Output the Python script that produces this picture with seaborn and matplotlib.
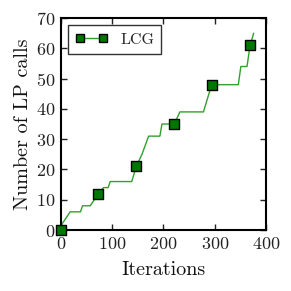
import matplotlib
matplotlib.use("Agg")
import matplotlib.pyplot as plt
from matplotlib.lines import Line2D
import seaborn as sns
import pandas as pd

# breakpoints of the cumulative LP-call curve
iters = [0, 2, 18, 38, 42, 57, 73, 83, 92, 96, 138, 147, 158, 171, 193, 197, 219, 221, 232, 278, 294, 346, 351, 363, 369, 376]
calls = [1, 2, 6, 6, 8, 8, 12, 14, 14, 16, 16, 21, 25, 31, 31, 35, 35, 35, 39, 39, 48, 48, 54, 54, 61, 65]

marker_iters = [0, 73, 147, 221, 294, 369]
marker_calls = [0, 12, 21, 35, 48, 61]

line_df = pd.DataFrame({"Iterations": iters, "calls": calls})
mark_df = pd.DataFrame({"Iterations": marker_iters, "calls": marker_calls})

sns.set_theme(style="ticks")
plt.rcParams["font.family"] = ["cmr10", "DejaVu Serif"]
plt.rcParams["axes.formatter.use_mathtext"] = True
plt.rcParams["mathtext.fontset"] = "cm"

fig = plt.figure(figsize=(2.91, 2.91), dpi=100)
ax = fig.add_axes([0.2096, 0.2096, 0.7044, 0.7284])

sns.lineplot(data=line_df, x="Iterations", y="calls", ax=ax, color="#30a030",
             linewidth=1.0, estimator=None, sort=False)
sns.scatterplot(data=mark_df, x="Iterations", y="calls", ax=ax, marker="s",
                color="#007800", edgecolor="black", linewidth=1.0, s=45, zorder=5,
                clip_on=False)

ax.set_xlim(0, 400)
ax.set_ylim(0, 70)
ax.set_xticks([0, 100, 200, 300, 400])
ax.set_yticks(range(0, 71, 10))
ax.tick_params(direction="in", top=True, right=True, length=4, width=1,
               labelsize=13, colors="#222222", pad=4)
for s in ax.spines.values():
    s.set_linewidth(1.5)
    s.set_color("black")
ax.set_xlabel("Iterations", fontsize=14.5, labelpad=7, color="#111111")
ax.set_ylabel("Number of LP calls", fontsize=14.5, labelpad=3, color="#111111")

handle = Line2D([], [], color="#30a030", linewidth=1.0, marker="s",
                markerfacecolor="#007800", markeredgecolor="black", markersize=6)
leg = ax.legend([handle], ["LCG"], loc="upper left", numpoints=2, fontsize=11.5,
                fancybox=False, frameon=True, handlelength=2.0,
                borderaxespad=0.45, borderpad=0.45)
leg.get_frame().set_edgecolor("black")
leg.get_frame().set_linewidth(1.0)

fig.savefig("out.png", dpi=100)
